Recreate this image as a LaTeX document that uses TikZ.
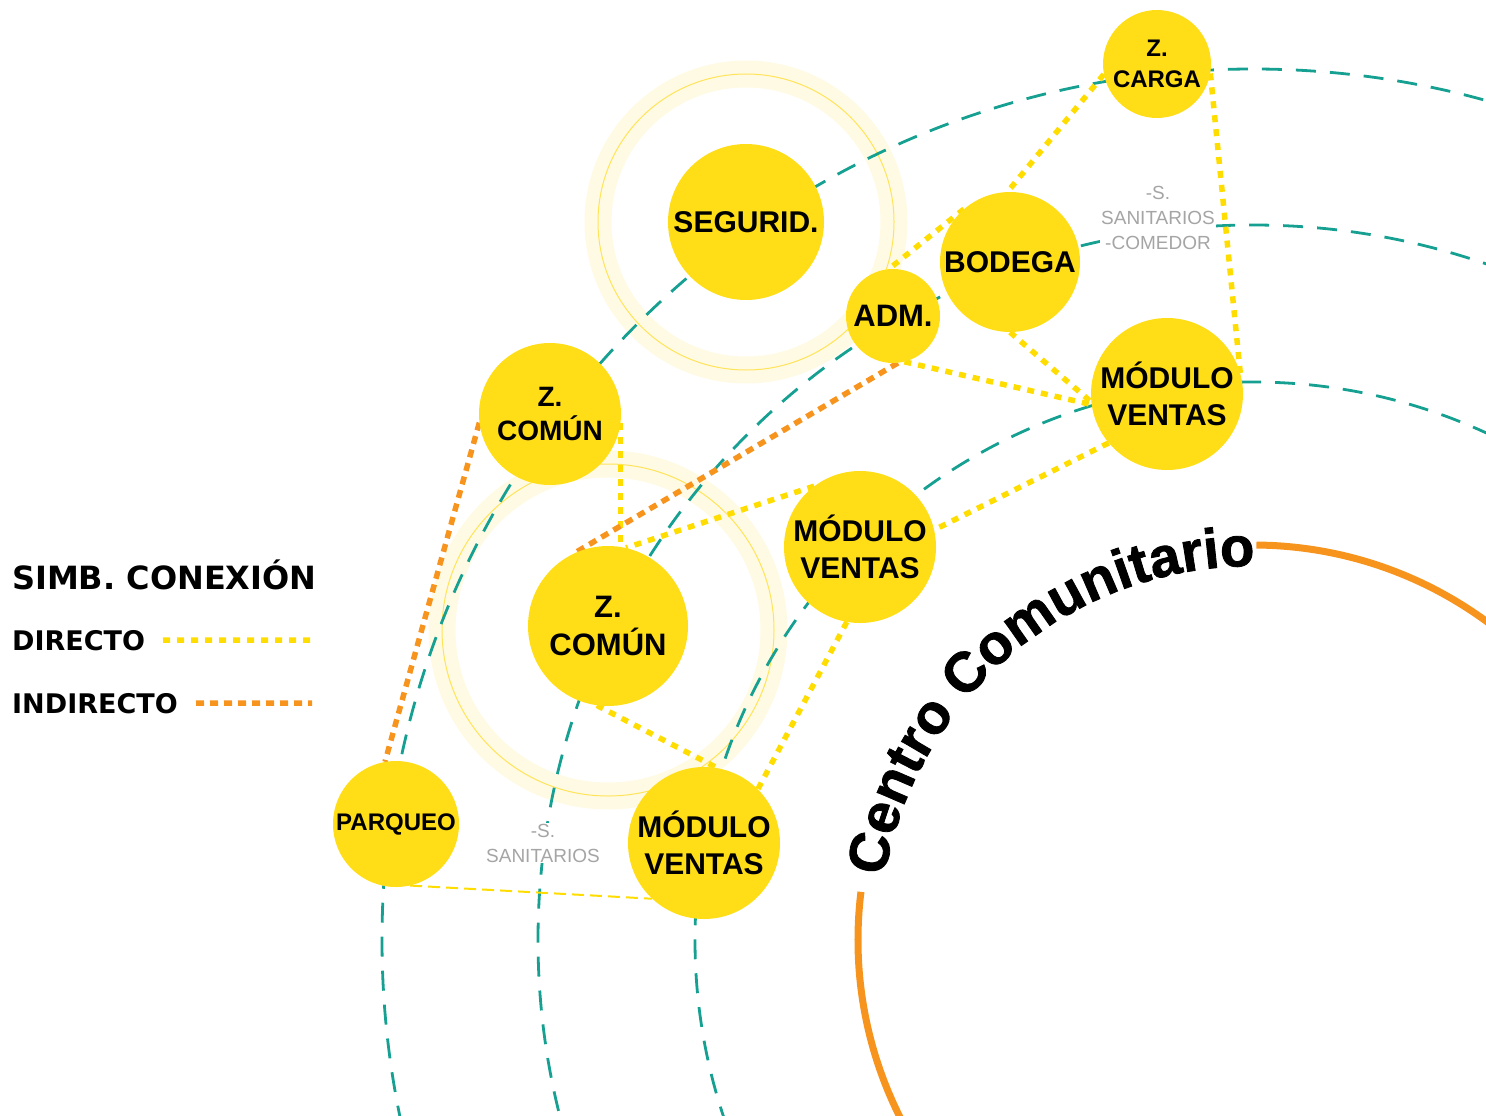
\documentclass[tikz,border=0pt]{standalone}
\usepackage{fontspec}
\usetikzlibrary{calc,backgrounds,decorations.text}

\newfontfamily\zonefont{Liberation Sans}
\newfontfamily\arcfont{Liberation Sans Bold}[FakeBold=1.5]
\newfontfamily\legendfont{DejaVu Sans}

\definecolor{zoneyellow}{RGB}{255,222,23}
\definecolor{dotyellow}{RGB}{255,221,0}
\definecolor{dotorange}{RGB}{247,148,29}
\definecolor{ringteal}{RGB}{22,160,145}
\definecolor{halofill}{RGB}{255,250,228}
\definecolor{haloline}{RGB}{255,228,90}
\definecolor{notegray}{RGB}{165,165,165}

\begin{document}
\begin{tikzpicture}[x=1pt, y=-1pt,
    zone/.style={circle, fill=zoneyellow, inner sep=0pt, align=center,
        font=\zonefont\bfseries\fontsize{30}{37}\selectfont},
    directo/.style={dotyellow, line width=5.5pt, dash pattern=on 7pt off 7pt},
    indirecto/.style={dotorange, line width=5.5pt, dash pattern=on 8pt off 6pt},
    ring/.style={ringteal, line width=2.8pt, dash pattern=on 20pt off 14pt},
    halo/.style={halofill, line width=27pt},
    note/.style={notegray, fill=white, inner sep=1pt, align=center,
        font=\zonefont\fontsize{19}{25}\selectfont},
    legend/.style={anchor=base west, inner sep=0pt,
        font=\legendfont\bfseries\fontsize{27}{30}\selectfont}]

\useasboundingbox (0,0) rectangle (1486,1116);
\clip (0,0) rectangle (1486,1116);

% centre of the rings
\coordinate (ctr) at (1253,940);

% Zones
\node[zone, minimum size=156pt] (seg) at (746,222) {SEGURID.};
\node[zone, minimum size=142pt, font=\zonefont\bfseries\fontsize{28}{34}\selectfont]
    (zc1) at (550,414) {Z.\\COMÚN};
\node[zone, minimum size=160pt, font=\zonefont\bfseries\fontsize{31}{38}\selectfont]
    (zc2) at (608,626) {Z.\\COMÚN};
\node[zone, minimum size=94pt, font=\zonefont\bfseries\fontsize{31}{37}\selectfont]
    (adm) at (893,316) {ADM.};
\node[zone, minimum size=140pt] (bod) at (1010,262) {BODEGA};
\node[zone, minimum size=108pt, font=\zonefont\bfseries\fontsize{24}{31}\selectfont]
    (zca) at (1157,64) {Z.\\CARGA};
\node[zone, minimum size=152pt] (mv1) at (1167,394) {MÓDULO\\VENTAS};
\node[zone, minimum size=152pt] (mv2) at (860,547) {MÓDULO\\VENTAS};
\node[zone, minimum size=152pt] (mv3) at (704,843) {MÓDULO\\VENTAS};
\node[zone, minimum size=126pt, font=\zonefont\bfseries\fontsize{24}{30}\selectfont]
    (par) at (396,824) {PARQUEO};

\begin{scope}[on background layer]
\clip (0,0) rectangle (1486,1116);

% Halos
\draw[halo] (seg) circle[radius=148];
\draw[haloline, line width=1pt] (seg) circle[radius=148];
\draw[halo] (608,630) circle[radius=166];
\draw[haloline, line width=1pt] (608,630) circle[radius=166];

% Teal rings
\foreach \r in {871,715,558}
    \draw[ring] (ctr) circle[radius=\r];

% Direct links
\draw[directo] (zca.191) -- (bod.92);
\draw[directo] (bod.131) -- (adm.95);
\draw[directo] (zca.-10) -- (mv1.16);
\draw[directo] (bod.-90) -- (mv1.186);
\draw[directo] (adm.-76) -- (mv1.188);
\draw[directo] (mv1.220) -- (mv2.13);
\draw[directo] (mv2.127) -- (zc2.77);
\draw[directo] (zc1.-7) -- (zc1.-7 |- zc2.north);
\draw[directo] (zc2.-98) -- (mv3.80);
\draw[directo] (mv2.-100) -- (mv3.45);
\draw[dotyellow, line width=2pt, dash pattern=on 12pt off 6pt] (par.-77) -- (mv3.227);

% Indirect links
\draw[indirecto] (zc1.187) -- (par.100);
\draw[indirecto] (adm.-84) -- (zc2.115);
\end{scope}

% Community centre arc
\draw[dotorange, line width=7pt]
    ($(ctr)+(-89.5:395)$) arc[start angle=-89.5, end angle=-20, radius=395];
\draw[dotorange, line width=7pt]
    ($(ctr)+(-173:395)$) arc[start angle=-173, end angle=-240, radius=395];
\path[decorate, decoration={text along path, text align=center,
        text={|\arcfont\fontsize{56}{60}\selectfont|Centro Comunitario}}]
    ($(ctr)+(-171:374)$) arc[start angle=-171, end angle=-89, radius=374];

% Notes
\node[note] (san1) at (1158,218) {-S.\\SANITARIOS\\-COMEDOR};
\node[note] (san2) at (543,843) {-S.\\SANITARIOS};

% Legend
\node[legend, font=\legendfont\bfseries\fontsize{32}{36}\selectfont]
    (simb) at (12,589) {SIMB. CONEXIÓN};
\node[legend] (ldir) at (12,650) {DIRECTO};
\node[legend] (lind) at (12,713) {INDIRECTO};
\coordinate (ldirend) at (312,640);
\coordinate (lindend) at (312,703);
\draw[directo] (ldir.east -| 163,0) -- (ldirend);
\draw[indirecto] (lind.east -| 196,0) -- (lindend);

\end{tikzpicture}
\end{document}
